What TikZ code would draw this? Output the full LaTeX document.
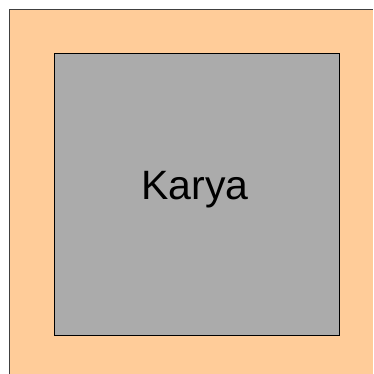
\documentclass[tikz,border=0pt]{standalone}
\usepackage{fontspec}
\setmainfont{Liberation Sans}
\definecolor{outerc}{HTML}{FFCC99}
\definecolor{innerc}{HTML}{ABABAB}
\begin{document}
\begin{tikzpicture}[x=1pt,y=-1pt,
  outerbox/.style={fill=outerc,draw=black!75,line width=0.8pt},
  innerbox/.style={fill=innerc,draw=black,line width=0.9pt}]
\useasboundingbox (0,0) rectangle (373,374);
\fill[outerc] (9.5,9.5) rectangle (373,374);
\draw[black!75,line width=0.8pt] (9.5,374) -- (9.5,9.5) -- (373,9.5);
\node[innerbox,minimum width=285pt,minimum height=282pt,anchor=north west,inner sep=0pt] (inner) at (53.5,53) {};
\node[font=\fontsize{41}{41}\selectfont] (label) at (195,190) {Karya};
\end{tikzpicture}
\end{document}
